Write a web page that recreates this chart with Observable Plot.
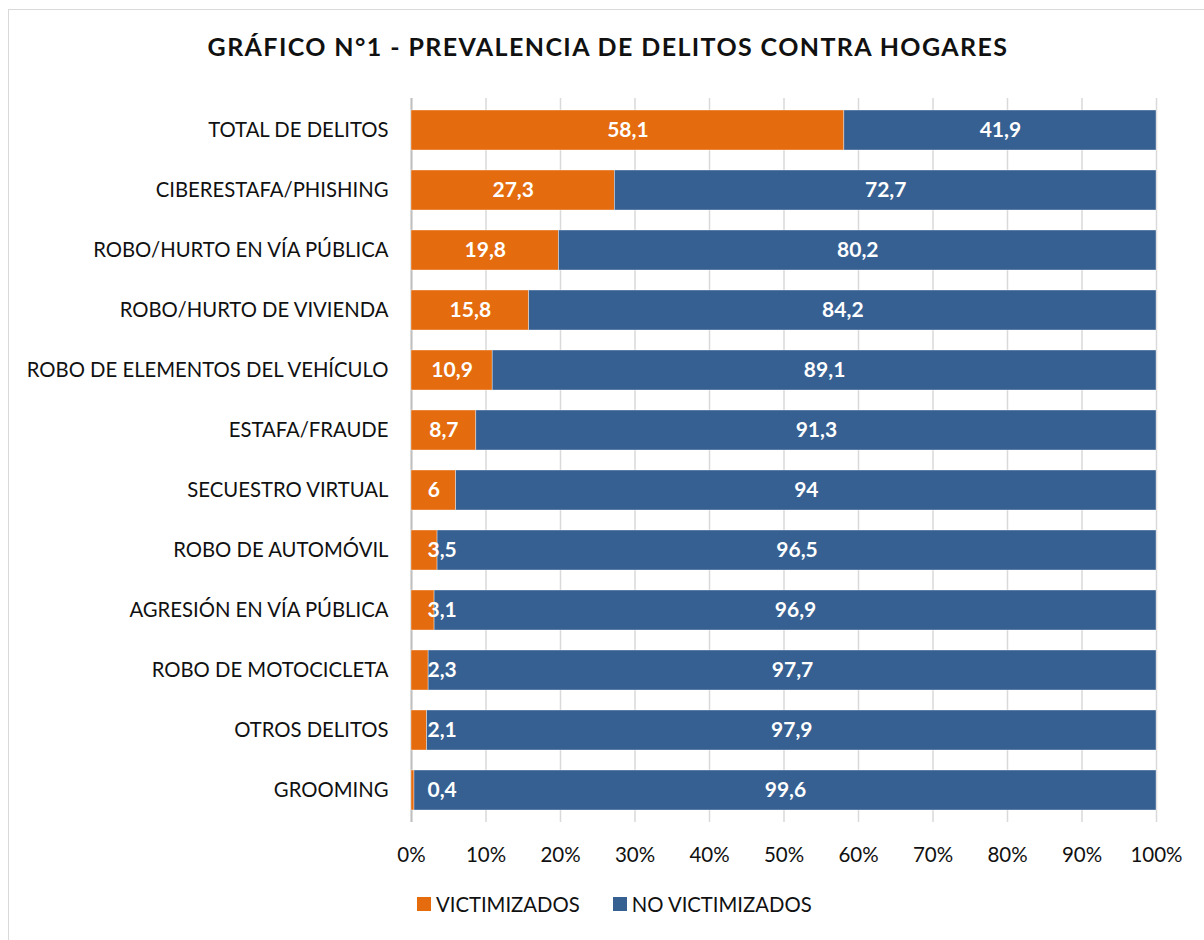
<!DOCTYPE html>
<html><head><meta charset="utf-8">
<script src="https://cdn.jsdelivr.net/npm/d3@7"></script>
<script src="https://cdn.jsdelivr.net/npm/@observablehq/plot@0.6"></script>
<style>
body{margin:0;background:#fff;font-family:Lato,"Open Sans",sans-serif;color:#111;}
#frame{position:absolute;left:8px;top:9px;width:1300px;height:1000px;border:1px solid #d9d9d9;box-sizing:border-box;}
#title{position:absolute;top:31px;left:0;width:1216px;text-align:center;font-weight:bold;font-size:25px;letter-spacing:1.4px;color:#111;}
#chart{position:absolute;left:0;top:0;}
#legend{position:absolute;top:892px;left:417px;font-size:20.3px;display:flex;align-items:center;}
.sw{display:inline-block;width:14px;height:14px;margin-right:5px;}
.item{display:flex;align-items:center;margin-right:33px;}
</style></head>
<body>
<div id="frame"></div>
<div id="title">GRÁFICO N°1 - PREVALENCIA DE DELITOS CONTRA HOGARES</div>
<div id="chart"></div>
<div id="legend"></div>
<script>
const categories = ["TOTAL DE DELITOS","CIBERESTAFA/PHISHING","ROBO/HURTO EN VÍA PÚBLICA","ROBO/HURTO DE VIVIENDA","ROBO DE ELEMENTOS DEL VEHÍCULO","ESTAFA/FRAUDE","SECUESTRO VIRTUAL","ROBO DE AUTOMÓVIL","AGRESIÓN EN VÍA PÚBLICA","ROBO DE MOTOCICLETA","OTROS DELITOS","GROOMING"];
const victimizados = [58.1,27.3,19.8,15.8,10.9,8.7,6,3.5,3.1,2.3,2.1,0.4];
const noVictimizados = [41.9,72.7,80.2,84.2,89.1,91.3,94,96.5,96.9,97.7,97.9,99.6];
const series = ["VICTIMIZADOS","NO VICTIMIZADOS"];
const colors = ["#E46C0E","#376092"];
const xTicks = [0,10,20,30,40,50,60,70,80,90,100];

const fmt = v => String(v).replace(".", ",");
const rows = [];
categories.forEach((c,i)=>{
  rows.push({cat:c, serie:series[0], value:victimizados[i], x1:0, x2:victimizados[i]});
  rows.push({cat:c, serie:series[1], value:noVictimizados[i], x1:victimizados[i], x2:victimizados[i]+noVictimizados[i]});
});
const lab = d => fmt(d.value);
const isShort = d => d.serie===series[0] && d.value < 8.3 && String(d.value).includes(".");
const centered = rows.filter(d => !isShort(d));
const shifted = rows.filter(d => isShort(d));

const plot = Plot.plot({
  width:1204, height:870,
  marginLeft:411, marginRight:48, marginTop:98, marginBottom:48,
  style:{fontFamily:"Lato, 'Open Sans', sans-serif", fontSize:"20px", color:"#111", background:"transparent"},
  x:{domain:[0,100]},
  y:{domain:categories, paddingInner:0.335, paddingOuter:0.165},
  color:{domain:series, range:colors},
  marks:[
    Plot.gridX(xTicks, {stroke:"#d9d9d9", strokeOpacity:1, strokeWidth:1.5}),
    Plot.ruleX([0], {stroke:"#bfbfbf", strokeWidth:2}),
    Plot.barX(rows, {x1:"x1", x2:"x2", y:"cat", fill:"serie", stroke:"#fff", strokeWidth:0.6, strokeOpacity:0.6}),
    Plot.text(centered, {x:d=>(d.x1+d.x2)/2, y:"cat", text:lab, fill:"white", fontWeight:"bold", fontSize:21}),
    Plot.text(shifted, {x:"x1", y:"cat", text:lab, fill:"white", fontWeight:"bold", fontSize:21, textAnchor:"start", dx:16}),
    Plot.axisY({tickSize:0, tickPadding:23, fontSize:20.3, label:null}),
    Plot.axisX(xTicks, {tickSize:0, tickPadding:25, fontSize:20.5, label:null, tickFormat:d=>d+"%"})
  ]
});
document.getElementById("chart").appendChild(plot);

const lg = document.getElementById("legend");
series.forEach((s,i)=>{
  const it = document.createElement("div"); it.className="item";
  const sw = document.createElement("span"); sw.className="sw"; sw.style.background=colors[i];
  const t = document.createElement("span"); t.textContent=s;
  it.appendChild(sw); it.appendChild(t); lg.appendChild(it);
});
</script>
</body></html>
